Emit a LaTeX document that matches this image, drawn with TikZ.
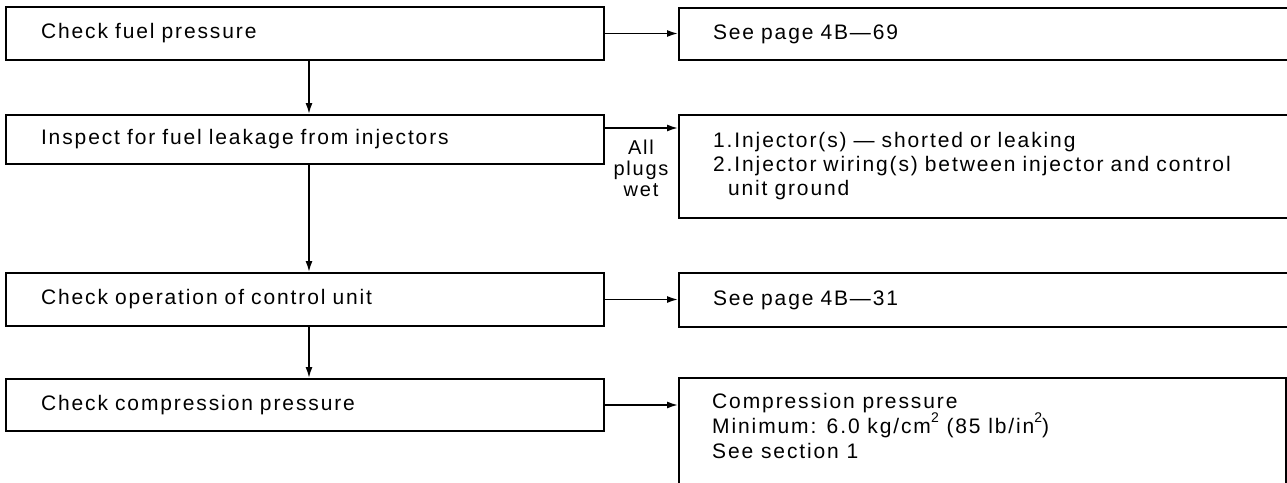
\documentclass[tikz,border=0pt]{standalone}
\usepackage{fontspec}
\setmainfont{Liberation Sans}[LetterSpace=9]
\usetikzlibrary{arrows.meta,calc}
\newcommand\supx[1]{\raisebox{0.5em}{\fontsize{14}{14}\selectfont #1}}
\tikzset{
  boxline/.style={draw, line width=2pt, rectangle, anchor=north west, inner ysep=0pt},
  lbox/.style={boxline, minimum width=598pt, text width=528pt, inner xsep=35pt, align=left},
  rbox/.style={boxline, minimum width=620pt, text width=552pt, inner xsep=34pt, align=left},
  arr/.style={line width=1.6pt, -{Latex[length=11pt,width=7pt]}},
  lbl/.style={align=center, font=\fontsize{20}{21}\selectfont, inner sep=0pt}
}
\begin{document}
\begin{tikzpicture}[x=1pt,y=-1pt,font=\fontsize{21}{24}\selectfont]
\useasboundingbox (0,0) rectangle (1287,482);
\clip (0,0) rectangle (1287,482);
% left column
\node[lbox, minimum height=53pt] (b1) at (5,6) {Check fuel pressure};
\node[lbox, minimum height=49pt] (b2) at (5,114) {Inspect for fuel leakage from injectors};
\node[lbox, minimum height=53pt] (b3) at (5,272) {Check operation of control unit};
\node[lbox, minimum height=52pt] (b4) at (5,378) {Check compression pressure};
% right column
\node[rbox, minimum height=52pt] (r1) at (678,7) {See page 4B—69};
\node[rbox, minimum height=103pt] (r2) at (678,114) {1.\hspace{2pt}Injector(s) — shorted or leaking\\2.\hspace{2pt}Injector wiring(s) between injector and control\\\hspace*{15pt}unit ground};
\node[rbox, minimum height=54pt] (r3) at (678,272) {See page 4B—31};
\node[boxline, minimum width=607pt, minimum height=130pt, inner sep=0pt] (r4) at (678,377) {};
\node[anchor=north west, align=left, inner sep=0pt, font=\fontsize{21}{25}\selectfont] (r4t) at (712,393) {Compression pressure\\Minimum: 6.0 kg/cm\supx{2} (85 lb/in\supx{2})\\See section 1};
% label
\node[lbl] (wet) at (641,168) {All\\plugs\\wet};
% vertical connectors
\draw[arr] ([xshift=4pt]b1.south) -- ([xshift=4pt]b2.north);
\draw[arr] ([xshift=4pt]b2.south) -- ([xshift=4pt]b3.north);
\draw[arr] ([xshift=4pt]b3.south) -- ([xshift=4pt]b4.north);
% horizontal connectors
\draw[arr] (b1.east) -- (b1.east -| r1.west);
\draw[arr] ([yshift=-14pt]b2.north east) -- ([yshift=-14pt]b2.north east -| r2.west);
\draw[arr] (b3.east) -- (b3.east -| r3.west);
\draw[arr] (b4.east) -- (b4.east -| r4.west);
\end{tikzpicture}
\end{document}
